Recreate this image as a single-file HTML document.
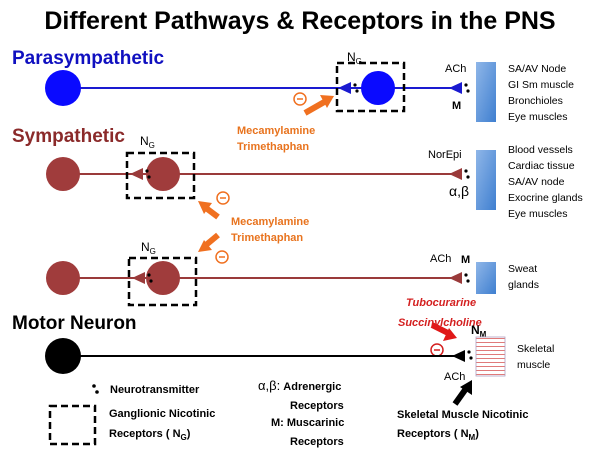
<!DOCTYPE html>
<html><head><style>body{margin:0;background:#fff}svg{display:block}text{font-family:"Liberation Sans",sans-serif}</style></head><body>
<svg width="600" height="450" viewBox="0 0 600 450" xmlns="http://www.w3.org/2000/svg">
<defs><linearGradient id="g" x1="0" y1="0" x2="1" y2="1"><stop offset="0" stop-color="#8fb6e8"/><stop offset="1" stop-color="#3f7fd0"/></linearGradient>
<pattern id="st" width="4" height="4" patternUnits="userSpaceOnUse"><rect width="4" height="4" fill="#fff"/><rect y="2" width="4" height="1" fill="#e07a7a"/></pattern></defs>
<text x="300" y="29" text-anchor="middle" font-size="25" font-weight="bold">Different Pathways &amp; Receptors in the PNS</text>
<!-- Para -->
<text x="12" y="64" font-size="19" font-weight="bold" fill="#1010c0">Parasympathetic</text>
<line x1="63" y1="88" x2="462" y2="88" stroke="#1a1ad0" stroke-width="2"/>
<circle cx="63" cy="88" r="18" fill="#0a0aff"/>
<circle cx="378" cy="88" r="17" fill="#0a0aff"/>
<rect x="337" y="63" width="67" height="48" fill="none" stroke="#000" stroke-width="2.5" stroke-dasharray="7,4"/>
<polygon points="338,88 351,82 351,94" fill="#1a1ad0"/><circle cx="355" cy="85" r="1.6"/><circle cx="357" cy="91" r="1.6"/>
<polygon points="449,88 462,82 462,94" fill="#1a1ad0"/><circle cx="466" cy="85" r="1.6"/><circle cx="468" cy="91" r="1.6"/>
<text x="347" y="61" font-size="12">N<tspan font-size="8" dy="3">G</tspan></text>
<text x="445" y="72" font-size="11">ACh</text><text x="452" y="109" font-size="11" font-weight="bold">M</text>
<rect x="476" y="62" width="20" height="60" fill="url(#g)"/>
<g font-size="10.5"><text x="508" y="72">SA/AV Node</text><text x="508" y="88">GI Sm muscle</text><text x="508" y="104">Bronchioles</text><text x="508" y="120">Eye muscles</text></g>
<line x1="305" y1="113" x2="326" y2="101" stroke="#f07020" stroke-width="6"/><polygon points="334,96 320,95 327,108" fill="#f07020"/>
<circle cx="300" cy="99" r="6" fill="none" stroke="#f07020" stroke-width="1.5"/><line x1="297" y1="99" x2="303" y2="99" stroke="#f07020" stroke-width="1.5"/>
<g font-size="11" font-weight="bold" fill="#e8731e"><text x="237" y="134">Mecamylamine</text><text x="237" y="150">Trimethaphan</text></g>
<!-- Symp -->
<text x="12" y="142" font-size="19" font-weight="bold" fill="#8b2a2a">Sympathetic</text>
<line x1="63" y1="174" x2="462" y2="174" stroke="#9a3a3a" stroke-width="2"/>
<circle cx="63" cy="174" r="17" fill="#a03c3c"/><circle cx="163" cy="174" r="17" fill="#a03c3c"/>
<rect x="127" y="153" width="67" height="45" fill="none" stroke="#000" stroke-width="2.5" stroke-dasharray="7,4"/>
<polygon points="130,174 143,168 143,180" fill="#9a3a3a"/><circle cx="147" cy="171" r="1.6"/><circle cx="149" cy="177" r="1.6"/>
<polygon points="449,174 462,168 462,180" fill="#9a3a3a"/><circle cx="466" cy="171" r="1.6"/><circle cx="468" cy="177" r="1.6"/>
<text x="140" y="145" font-size="12">N<tspan font-size="8" dy="3">G</tspan></text>
<text x="428" y="158" font-size="11">NorEpi</text><text x="449" y="196" font-size="14">α,β</text>
<rect x="476" y="150" width="20" height="60" fill="url(#g)"/>
<g font-size="10.5"><text x="508" y="153">Blood vessels</text><text x="508" y="169">Cardiac tissue</text><text x="508" y="185">SA/AV node</text><text x="508" y="201">Exocrine glands</text><text x="508" y="217">Eye muscles</text></g>
<line x1="218" y1="217" x2="206" y2="208" stroke="#f07020" stroke-width="6"/><polygon points="198,201 212,203 204,214" fill="#f07020"/>
<circle cx="223" cy="198" r="6" fill="none" stroke="#f07020" stroke-width="1.5"/><line x1="220" y1="198" x2="226" y2="198" stroke="#f07020" stroke-width="1.5"/>
<g font-size="11" font-weight="bold" fill="#e8731e"><text x="231" y="225">Mecamylamine</text><text x="231" y="241">Trimethaphan</text></g>
<line x1="218" y1="235" x2="206" y2="245" stroke="#f07020" stroke-width="6"/><polygon points="198,252 204,240 212,250" fill="#f07020"/>
<circle cx="222" cy="257" r="6" fill="none" stroke="#f07020" stroke-width="1.5"/><line x1="219" y1="257" x2="225" y2="257" stroke="#f07020" stroke-width="1.5"/>
<!-- Symp 2 -->
<line x1="63" y1="278" x2="462" y2="278" stroke="#9a3a3a" stroke-width="2"/>
<circle cx="63" cy="278" r="17" fill="#a03c3c"/><circle cx="163" cy="278" r="17" fill="#a03c3c"/>
<rect x="129" y="258" width="67" height="47" fill="none" stroke="#000" stroke-width="2.5" stroke-dasharray="7,4"/>
<polygon points="132,278 145,272 145,284" fill="#9a3a3a"/><circle cx="149" cy="275" r="1.6"/><circle cx="151" cy="281" r="1.6"/>
<polygon points="449,278 462,272 462,284" fill="#9a3a3a"/><circle cx="466" cy="275" r="1.6"/><circle cx="468" cy="281" r="1.6"/>
<text x="141" y="251" font-size="12">N<tspan font-size="8" dy="3">G</tspan></text>
<text x="430" y="262" font-size="11">ACh</text><text x="461" y="263" font-size="11" font-weight="bold">M</text>
<rect x="476" y="262" width="20" height="32" fill="url(#g)"/>
<g font-size="10.5"><text x="508" y="272">Sweat</text><text x="508" y="288">glands</text></g>
<!-- Motor -->
<text x="12" y="329" font-size="19" font-weight="bold">Motor Neuron</text>
<g font-size="11" font-weight="bold" font-style="italic" fill="#d42020"><text x="406" y="306">Tubocurarine</text><text x="398" y="326">Succinylcholine</text></g>
<line x1="432" y1="325" x2="448" y2="333" stroke="#e01818" stroke-width="6"/><polygon points="457,338 443,341 449,328" fill="#e01818"/>
<text x="471" y="334" font-size="12" font-weight="bold">N<tspan font-size="8" dy="3">M</tspan></text>
<circle cx="437" cy="350" r="6" fill="none" stroke="#d42020" stroke-width="1.5"/><line x1="434" y1="350" x2="440" y2="350" stroke="#d42020" stroke-width="1.5"/>
<line x1="63" y1="356" x2="465" y2="356" stroke="#000" stroke-width="2"/>
<circle cx="63" cy="356" r="18" fill="#000"/>
<polygon points="452,356 465,350 465,362"/><circle cx="469" cy="352" r="1.6"/><circle cx="471" cy="358" r="1.6"/>
<rect x="476" y="337" width="29" height="39" fill="url(#st)" stroke="#b0a0c0" stroke-width="0.8"/>
<g font-size="10.5"><text x="517" y="352">Skeletal</text><text x="517" y="368">muscle</text></g>
<text x="444" y="380" font-size="11">ACh</text>
<line x1="455" y1="404" x2="465" y2="390" stroke="#000" stroke-width="6"/><polygon points="472,380 472,395 460,387"/>
<!-- Legend -->
<circle cx="94" cy="386" r="1.8"/><circle cx="97" cy="392" r="1.8"/>
<text x="110" y="393" font-size="11" font-weight="bold">Neurotransmitter</text>
<rect x="50" y="406" width="45" height="38" fill="none" stroke="#000" stroke-width="2.5" stroke-dasharray="7,4"/>
<g font-size="11" font-weight="bold"><text x="109" y="417">Ganglionic Nicotinic</text><text x="109" y="437">Receptors ( N<tspan font-size="8" dy="3">G</tspan><tspan dy="-3">)</tspan></text>
<text x="258" y="390"><tspan font-weight="normal" font-size="13">α,β:</tspan> Adrenergic</text><text x="290" y="409">Receptors</text>
<text x="271" y="426">M: Muscarinic</text><text x="290" y="445">Receptors</text>
<text x="397" y="418">Skeletal Muscle Nicotinic</text><text x="397" y="437">Receptors ( N<tspan font-size="8" dy="3">M</tspan><tspan dy="-3">)</tspan></text></g>
</svg>
</body></html>
